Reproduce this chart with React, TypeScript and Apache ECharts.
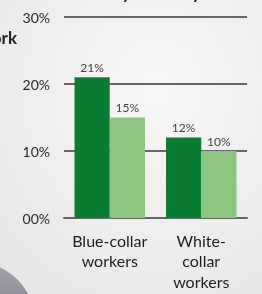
import React, { useEffect, useRef } from "react";
import * as echarts from "echarts";

const categories = ["Blue-collar\nworkers", "White-\ncollar\nworkers"];
const seriesA = [21, 12];
const seriesB = [15, 10];
const yTicks = [0, 10, 20, 30];

export default function App() {
  const ref = useRef<HTMLDivElement>(null);
  useEffect(() => {
    const chart = echarts.init(ref.current!, null, { renderer: "svg" });
    const labelStyle = {
      show: true,
      position: "top" as const,
      formatter: "{c}%",
      color: "#444",
      fontSize: 12,
      fontFamily: "Lato",
      distance: 4,
    };
    chart.setOption({
      animation: false,
      backgroundColor: {
        type: "radial",
        x: 0.6,
        y: 0.3,
        r: 0.9,
        colorStops: [
          { offset: 0, color: "#f7f7f7" },
          { offset: 1, color: "#e6e6e6" },
        ],
      },
      graphic: [
        {
          type: "circle",
          shape: { cx: -25, cy: 322, r: 60 },
          style: {
            fill: {
              type: "linear",
              x: 0,
              y: 0,
              x2: 0,
              y2: 1,
              colorStops: [
                { offset: 0, color: "#a3a3ad" },
                { offset: 0.5, color: "#7f808a" },
                { offset: 1, color: "#6c6d76" },
              ],
            },
          },
          z: 0,
        },
        {
          type: "text",
          x: 17,
          y: 29,
          style: {
            text: "work",
            align: "right",
            fontSize: 17,
            fontWeight: "bold",
            fontFamily: "Lato",
            fill: "#222",
          },
        },
        {
          type: "text",
          x: 70,
          y: -17,
          style: {
            text: "ratio by industry",
            fontSize: 18,
            fontWeight: "bold",
            fontFamily: "Lato",
            fill: "#222",
          },
        },
      ],
      grid: { left: 64, right: 15, top: 17, bottom: 76 },
      xAxis: {
        type: "category",
        data: categories,
        axisLine: { show: true, lineStyle: { color: "#666", width: 2 } },
        axisTick: { show: false },
        axisLabel: {
          color: "#1e1e1e",
          fontSize: 16,
          fontFamily: "Lato",
          lineHeight: 20.5,
          margin: 12,
          interval: 0,
        },
      },
      yAxis: {
        type: "value",
        min: yTicks[0],
        max: yTicks[yTicks.length - 1],
        interval: 10,
        axisLine: { show: false },
        axisTick: { show: false },
        splitLine: { lineStyle: { color: "#666", width: 2 } },
        axisLabel: {
          formatter: (v: number) => (v === 0 ? "00%" : v + "%"),
          color: "#2a2a2a",
          fontSize: 14,
          fontFamily: "Lato",
          margin: 14,
        },
      },
      series: [
        {
          type: "bar",
          data: seriesA,
          barGap: "0%",
          barCategoryGap: "23%",
          itemStyle: { color: "#0d7c33" },
          label: labelStyle,
        },
        {
          type: "bar",
          data: seriesB,
          itemStyle: { color: "#8dc482" },
          label: labelStyle,
        },
      ],
    });
    return () => chart.dispose();
  }, []);
  return (
    <div
      ref={ref}
      style={{ position: "fixed", left: 0, top: 0, width: 262, height: 294 }}
    />
  );
}
